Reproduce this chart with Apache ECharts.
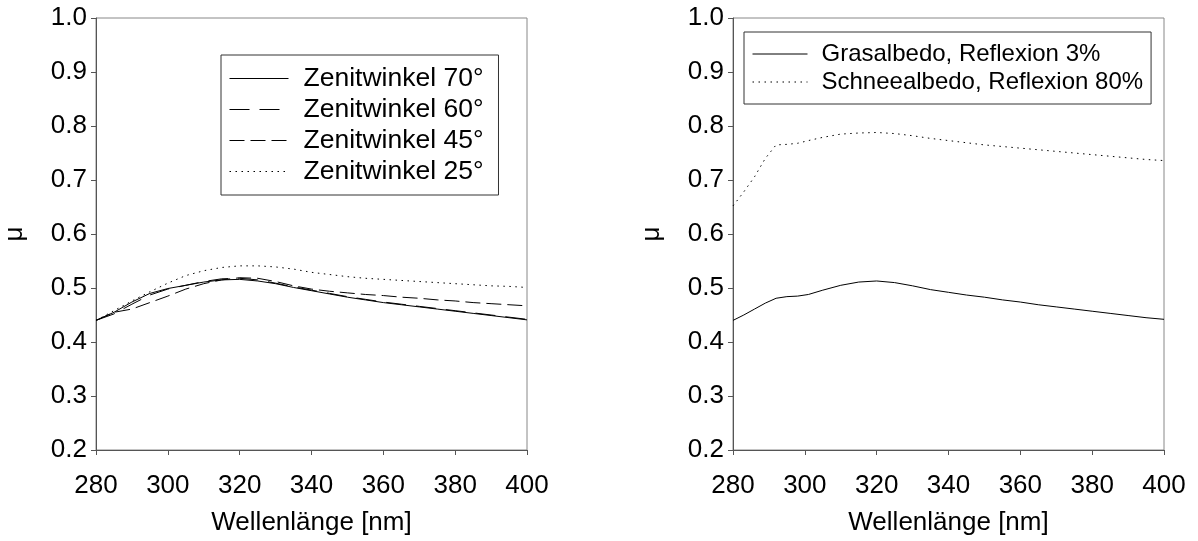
<!DOCTYPE html>
<html>
<head>
<meta charset="utf-8">
<script src="https://cdn.jsdelivr.net/npm/echarts@6/dist/echarts.min.js"></script>
<style>
html,body{margin:0;padding:0;background:#fff;}
#c{width:1198px;height:541px;}
</style>
</head>
<body>
<div id="c"></div>
<script>
// ---- Data ----
const wlLeft = [280,285,290,295,300,305,310,315,320,325,330,335,340,345,350,355,360,365,370,375,380,385,390,395,400];
const zen70 = [0.440,0.455,0.474,0.490,0.499,0.505,0.511,0.515,0.516,0.513,0.508,0.501,0.495,0.489,0.483,0.478,0.473,0.469,0.465,0.461,0.457,0.453,0.449,0.445,0.441];
const zen60 = [0.440,0.452,0.470,0.487,0.498,0.505,0.512,0.517,0.518,0.515,0.509,0.502,0.496,0.490,0.484,0.479,0.474,0.470,0.466,0.462,0.458,0.454,0.450,0.446,0.442];
const zen45 = [0.440,0.455,0.461,0.473,0.485,0.498,0.508,0.515,0.519,0.518,0.512,0.504,0.498,0.494,0.491,0.488,0.486,0.483,0.481,0.478,0.476,0.473,0.471,0.469,0.467];
const zen25 = [0.440,0.458,0.476,0.493,0.509,0.523,0.532,0.538,0.541,0.541,0.539,0.535,0.529,0.525,0.521,0.518,0.516,0.514,0.512,0.510,0.508,0.506,0.504,0.503,0.501];

const wlRight = [280,283,286,289,292,295,298,301,305,310,315,320,325,330,335,340,345,350,355,360,365,370,375,380,385,390,395,400];
const gras   = [0.440,0.450,0.461,0.472,0.481,0.484,0.485,0.488,0.496,0.505,0.511,0.513,0.510,0.504,0.497,0.492,0.487,0.483,0.478,0.474,0.469,0.465,0.461,0.457,0.453,0.449,0.445,0.442];
const schnee = [0.652,0.678,0.706,0.740,0.765,0.766,0.768,0.773,0.779,0.785,0.787,0.788,0.786,0.782,0.777,0.773,0.769,0.765,0.762,0.759,0.756,0.753,0.750,0.747,0.744,0.741,0.738,0.736];

const namesLeft = ['Zenitwinkel 70°','Zenitwinkel 60°','Zenitwinkel 45°','Zenitwinkel 25°'];
const namesRight = ['Grasalbedo, Reflexion 3%','Schneealbedo, Reflexion 80%'];
const xTitle = 'Wellenlänge [nm]';
const yTitle = 'μ';

// ---- Chart ----
const FONT = '"Liberation Sans", Arial, sans-serif';
const FS = 26;
function pairs(xs, ys){ return xs.map((x,i)=>[x, ys[i]]); }

function xAxisCfg(gi){
  return {
    type:'value', gridIndex:gi, min:280, max:400, interval:20,
    name:xTitle, nameLocation:'middle', nameGap:60,
    nameTextStyle:{fontFamily:FONT, fontSize:FS, color:'#000'},
    axisLine:{show:true, onZero:false, lineStyle:{color:'#555', width:1}},
    axisTick:{show:true, inside:false, length:5, lineStyle:{color:'#555'}},
    axisLabel:{fontFamily:FONT, fontSize:FS, color:'#000', margin:23},
    splitLine:{show:false}
  };
}
function yAxisCfg(gi){
  return {
    type:'value', gridIndex:gi, min:0.2, max:1.0, interval:0.1,
    name:yTitle, nameLocation:'middle', nameGap:68, nameRotate:90,
    nameTextStyle:{fontFamily:FONT, fontSize:FS, color:'#000'},
    axisLine:{show:true, onZero:false, lineStyle:{color:'#555', width:1}},
    axisTick:{show:true, inside:false, length:5, lineStyle:{color:'#555'}},
    axisLabel:{fontFamily:FONT, fontSize:FS, color:'#000', margin:9,
      formatter:v=>v.toFixed(1)},
    splitLine:{show:false}
  };
}
function lineSeries(name, xi, data, type){
  return {
    name:name, type:'line', xAxisIndex:xi, yAxisIndex:xi,
    data:data, showSymbol:false, symbol:'none', smooth:false,
    lineStyle:{color:'#000', width:1, type:type},
    itemStyle:{color:'#000'},
    animation:false, silent:true
  };
}
function legendCfg(names, left, top, lh, fs, iw, tp, pr){
  return {
    data:names, orient:'vertical', left:left, top:top,
    itemWidth:iw, itemHeight:10, itemGap:0,
    padding:[8,pr,8,8],
    borderColor:'#333', borderWidth:1, backgroundColor:'#fff',
    itemStyle:{opacity:0},
    lineStyle:{width:1},
    textStyle:{fontFamily:FONT, fontSize:fs, color:'#000', lineHeight:lh, padding:[0,0,0,tp]},
    selectedMode:false
  };
}

const chart = echarts.init(document.getElementById('c'), null, {renderer:'canvas'});
chart.setOption({
  animation:false,
  backgroundColor:'#fff',
  grid:[
    {left:96, right:1198-527, top:18, bottom:541-450, show:true, borderColor:'#888', borderWidth:1, containLabel:false},
    {left:733, right:1198-1164, top:18, bottom:541-450, show:true, borderColor:'#888', borderWidth:1, containLabel:false}
  ],
  xAxis:[xAxisCfg(0), xAxisCfg(1)],
  yAxis:[yAxisCfg(0), yAxisCfg(1)],
  legend:[
    legendCfg(namesLeft, 221, 55, 31, 26.5, 59, 10, 15),
    legendCfg(namesRight, 744, 32, 28, 24, 55, 9, 8)
  ],
  series:[
    lineSeries(namesLeft[0], 0, pairs(wlLeft, zen70), 'solid'),
    lineSeries(namesLeft[1], 0, pairs(wlLeft, zen60), [20,10]),
    lineSeries(namesLeft[2], 0, pairs(wlLeft, zen45), [15,6]),
    lineSeries(namesLeft[3], 0, pairs(wlLeft, zen25), [1.5,4.5]),
    lineSeries(namesRight[0], 1, pairs(wlRight, gras), 'solid'),
    lineSeries(namesRight[1], 1, pairs(wlRight, schnee), [1.5,4.5])
  ]
});
</script>
</body>
</html>
